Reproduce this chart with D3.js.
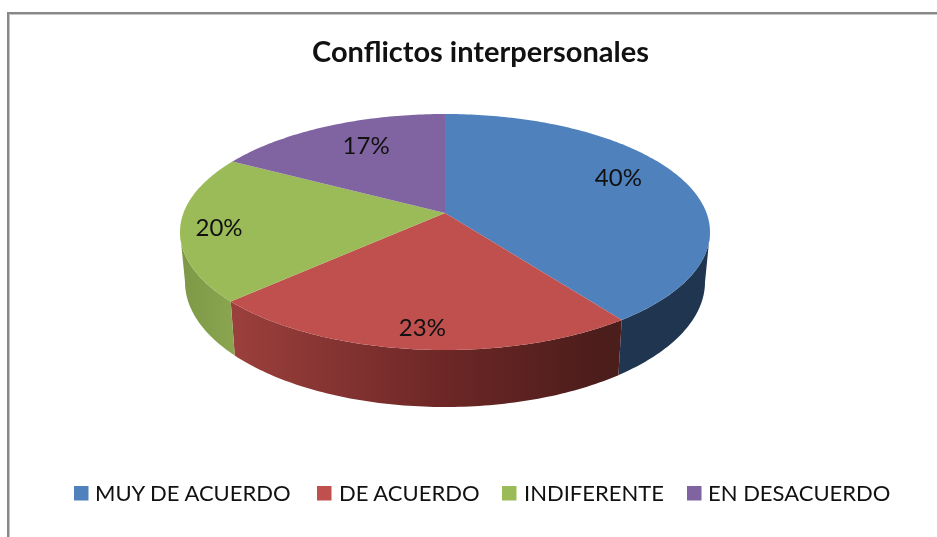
<!DOCTYPE html>
<html>
<head>
<meta charset="utf-8">
<script src="https://cdn.jsdelivr.net/npm/d3@7"></script>
<style>
  html, body { margin: 0; padding: 0; background: #fff; overflow: hidden; }
  text { font-family: Lato, "Open Sans", sans-serif; fill: #111; }
</style>
</head>
<body>
<script>
const categories = ['MUY DE ACUERDO', 'DE ACUERDO', 'INDIFERENTE', 'EN DESACUERDO'];
const values = [40, 23, 20, 17];
const topColors = ['#4f81bd', '#c0504d', '#9bbb59', '#8064a2'];
const title = 'Conflictos interpersonales';

const width = 937, height = 537;

// top face and bottom rim of the disc, seen in perspective
const top_ = {cx: 445, cy: 232, rx: 265, ry: 118};
const bottom = {cx: 445, cy: 282, rx: 260, ry: 125};
const skew = 0.161;   // how far the apex sits behind the ellipse centre

// label nudge from the slice midpoint
let labelOffsets = [[-18, -9], [0, 8], [-15, 2], [17, 3]];
let legendX = [74, 317, 502, 687];
let legendText = [95, 339, 524, 708];

let svg = d3.select('body').append('svg')
    .attr('width', width)
    .attr('height', height)
    .style('display', 'block');

let defs = svg.append('defs');

// the reference is a slightly soft screenshot
defs.append('filter').attr('id', 'soft')
    .attr('filterUnits', 'userSpaceOnUse')
    .attr('color-interpolation-filters', 'sRGB')
    .attr('x', 0).attr('y', 0).attr('width', width).attr('height', height)
    .append('feGaussianBlur').attr('stdDeviation', 0.45);

function sideGradient(id, stops) {
    let grad = defs.append('linearGradient')
        .attr('id', id)
        .attr('gradientUnits', 'userSpaceOnUse')
        .attr('x1', bottom.cx - bottom.rx).attr('x2', bottom.cx + bottom.rx)
        .attr('y1', 0).attr('y2', 0);
    stops.forEach(s => grad.append('stop').attr('offset', s[0]).attr('stop-color', s[1]));
}
sideGradient('side0', [[0, '#1f3550'], [1, '#1f3550']]);
sideGradient('side1', [[0, '#a8453f'], [0.1, '#9a3f3c'], [0.5, '#6d2726'], [0.8, '#4b1d1b'], [1, '#4b1d1b']]);
sideGradient('side2', [[0, '#7e9a48'], [0.1, '#8ba650'], [1, '#8ba650']]);
sideGradient('side3', [[0, '#5f4a7a'], [1, '#5f4a7a']]);

let chart = svg.append('g').attr('filter', 'url(#soft)');

// frame, only top and left are visible
let frame = chart.append('g');
frame.append('line').attr('x1', 8).attr('x2', width).attr('y1', 14.5).attr('y2', 14.5)
    .attr('stroke', '#c4c4c4').attr('stroke-width', 1);
frame.append('line').attr('x1', 9.5).attr('x2', 9.5).attr('y1', 14).attr('y2', height)
    .attr('stroke', '#c4c4c4').attr('stroke-width', 1);
frame.append('line').attr('x1', 7).attr('x2', width).attr('y1', 13).attr('y2', 13)
    .attr('stroke', '#888').attr('stroke-width', 2);
frame.append('line').attr('x1', 8).attr('x2', 8).attr('y1', 12).attr('y2', height)
    .attr('stroke', '#888').attr('stroke-width', 2);

let pie = d3.pie().sort(null).value(d => d);
let arcs = pie(values);

// angle clockwise from 12 o'clock to a point on the projected ellipse
function project(angle, e, f = 1) {
    let u = f * Math.sin(angle), v = f * Math.cos(angle);
    let w = 1 + skew * v;
    let x = u * Math.sqrt(1 - skew * skew) / w;
    let y = (v + skew) / w;
    return [e.cx + e.rx * x, e.cy - e.ry * y];
}

let line = d3.line();

function samples(a0, a1) {
    let n = Math.max(2, Math.ceil((a1 - a0) * 60));
    return d3.range(n + 1).map(i => a0 + (a1 - a0) * i / n);
}

// the side wall shows only between the two extremes of the ellipse
let frontStart = Math.acos(-skew);
let frontEnd = 2 * Math.PI - frontStart;

chart.append('g').selectAll('path')
    .data(arcs.filter(d => d.endAngle > frontStart && d.startAngle < frontEnd))
    .enter().append('path')
    .attr('d', d => {
        let a = samples(Math.max(d.startAngle, frontStart), Math.min(d.endAngle, frontEnd));
        let pts = a.map(t => project(t, top_)).concat(a.slice().reverse().map(t => project(t, bottom)));
        return line(pts) + 'Z';
    })
    .attr('fill', d => `url(#side${d.index})`);

chart.append('g').selectAll('path')
    .data(arcs)
    .enter().append('path')
    .attr('d', d => line([project(0, top_, 0)].concat(samples(d.startAngle, d.endAngle).map(t => project(t, top_)))) + 'Z')
    .attr('fill', d => topColors[d.index]);

chart.append('g').selectAll('text')
    .data(arcs)
    .enter().append('text')
    .attr('x', d => project((d.startAngle + d.endAngle) / 2, top_, 0.8)[0] + labelOffsets[d.index][0])
    .attr('y', d => project((d.startAngle + d.endAngle) / 2, top_, 0.8)[1] + labelOffsets[d.index][1])
    .attr('text-anchor', 'middle')
    .attr('dominant-baseline', 'central')
    .style('font-size', '24px')
    .text(d => d.value + '%');

chart.append('text')
    .attr('x', 480.5).attr('y', 62)
    .attr('text-anchor', 'middle')
    .style('font-size', '29px')
    .style('font-weight', 700)
    .text(title);

let legend = chart.append('g').selectAll('g')
    .data(categories)
    .enter().append('g');

legend.append('rect')
    .attr('x', (d, i) => legendX[i])
    .attr('y', 486)
    .attr('width', 14.5)
    .attr('height', 14.5)
    .attr('fill', (d, i) => topColors[i]);

legend.append('text')
    .attr('x', (d, i) => legendText[i])
    .attr('y', 501)
    .style('font-size', '22px')
    .text(d => d);
</script>
</body>
</html>
